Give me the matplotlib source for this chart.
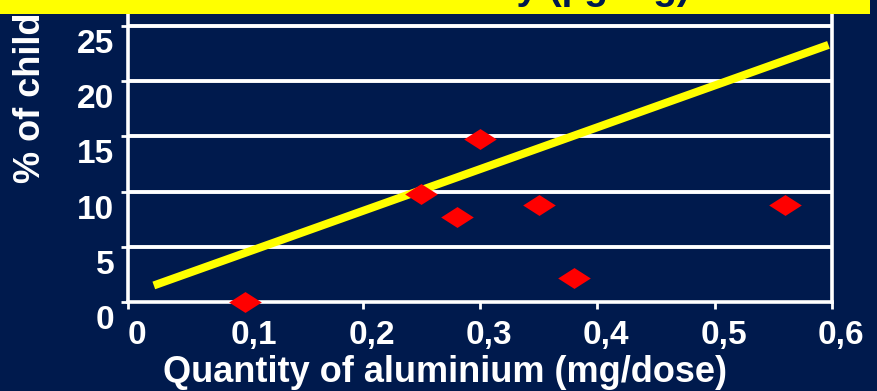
import matplotlib
matplotlib.use('Agg')
import matplotlib.pyplot as plt
import matplotlib.transforms as mtransforms
from matplotlib.patches import Rectangle

# data
alu_dose = [0.10, 0.25, 0.28, 0.30, 0.35, 0.38, 0.56]   # mg/dose
pct_children = [0.0, 9.8, 7.7, 14.8, 8.8, 2.2, 8.8]     # %
trend_x = [0.022, 0.597]
trend_y = [1.5, 23.3]
x_ticks = [0, 0.1, 0.2, 0.3, 0.4, 0.5, 0.6]
x_labels = ['0', '0,1', '0,2', '0,3', '0,4', '0,5', '0,6']
y_ticks = [0, 5, 10, 15, 20, 25]

bg = '#001a4d'
plt.rcParams['font.family'] = ['Liberation Sans', 'DejaVu Sans']
plt.rcParams['font.weight'] = 'bold'

W, H = 877, 391
fig = plt.figure(figsize=(W / 100, H / 100), dpi=100, facecolor=bg)
ax = fig.add_axes([128 / W, 89 / H, 704 / W, 288 / H], facecolor=bg)

ax.set_xlim(0, 0.6)
ax.set_ylim(0, 26.1)

for y in y_ticks[1:]:
    ax.axhline(y, color='white', lw=2.8, zorder=1)

ax.plot(trend_x, trend_y, color='#ffff00', lw=5.8, solid_capstyle='butt', zorder=3)
diamond = [(-1, 0), (0, 0.64), (1, 0), (0, -0.64), (-1, 0)]
ax.plot(alu_dose, pct_children, linestyle='none', marker=diamond, markersize=23.5,
        color='#ff0000', markeredgewidth=0, zorder=4, clip_on=False)

for s in ['left', 'bottom', 'right']:
    ax.spines[s].set_color('white')
    ax.spines[s].set_linewidth(2.6)
ax.spines['top'].set_visible(False)

ax.set_xticks(x_ticks)
ax.set_xticklabels(x_labels)
ax.set_yticks(y_ticks)
ax.tick_params(colors='white', labelsize=24, width=2, length=5, pad=8)
ax.tick_params(axis='y', pad=5)
y_off = mtransforms.ScaledTranslation(0, -3 / 100, fig.dpi_scale_trans)
for lab in ax.get_yticklabels():
    lab.set_va('top')
    lab.set_transform(lab.get_transform() + y_off)
    lab.set_fontweight('bold')
x_off = mtransforms.ScaledTranslation(9 / 100, 0, fig.dpi_scale_trans)
for lab in ax.get_xticklabels():
    lab.set_transform(lab.get_transform() + x_off)
    lab.set_fontweight('bold')

fig.text(445 / W, 1 - 373 / H, 'Quantity of aluminium (mg/dose)', color='white',
         fontsize=26, fontweight='bold', ha='center', va='center')
fig.text(31 / W, 1 - 183 / H, '% of children', color='white', fontsize=26,
         fontweight='bold', rotation=90, ha='center', va='bottom', zorder=2)

# yellow title box, mostly cut off at the top
fig.add_artist(Rectangle((0, 1 - 14 / H), 870 / W, 14 / H, transform=fig.transFigure,
                         facecolor='#ffff00', edgecolor='none', zorder=10))
fig.text(690 / W, 1 + 1 / H, 'Aluminium toxicity (µg/mg)', color=bg, fontsize=28,
         fontweight='bold', ha='right', va='baseline', zorder=11)

fig.savefig('out.png', dpi=100, facecolor=bg)
